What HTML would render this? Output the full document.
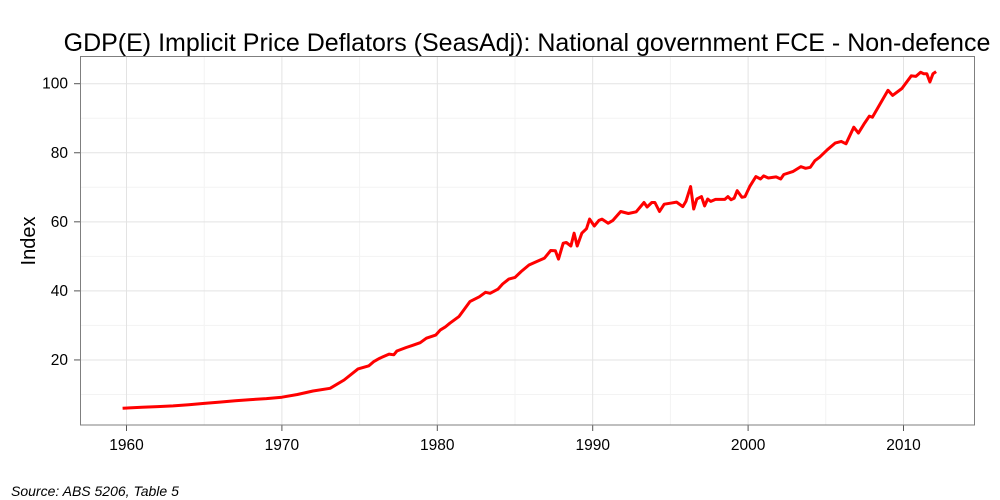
<!DOCTYPE html>
<html><head><meta charset="utf-8">
<style>
html,body{margin:0;padding:0;background:#fff;}
svg{display:block;font-family:"Liberation Sans",Arial,sans-serif;}
</style></head>
<body>
<svg id="chart" width="1000" height="500" viewBox="0 0 1000 500">
<text x="527" y="51" font-size="25" text-anchor="middle" fill="#000">GDP(E) Implicit Price Deflators (SeasAdj): National government FCE - Non-defence</text>
<g id="grid"></g>
<g id="axes"></g>
<path id="line" fill="none" stroke="#ff0000" stroke-width="3" stroke-linejoin="round"/>
<rect x="80.5" y="56.5" width="894" height="368.5" fill="none" stroke="#7f7f7f" stroke-width="1"/>
<text transform="translate(35,241) rotate(-90)" font-size="20" text-anchor="middle">Index</text>
<text x="11" y="496" font-size="14" font-style="italic">Source: ABS 5206, Table 5</text>
</svg>
<script>
const years = [1959.75,1961,1962,1963,1964,1965,1966,1967,1968,1969,1970,1971,1972,1973.1,1974.0,1974.9,1975.6,1975.9,1976.3,1976.9,1977.2,1977.4,1978.0,1978.4,1978.9,1979.3,1979.9,1980.2,1980.5,1980.8,1981.4,1982.1,1982.7,1983.1,1983.4,1983.9,1984.2,1984.6,1985.0,1985.4,1985.9,1986.4,1986.9,1987.3,1987.6,1987.8,1988.1,1988.3,1988.6,1988.8,1989.0,1989.3,1989.6,1989.8,1990.1,1990.4,1990.6,1991.0,1991.3,1991.8,1992.3,1992.8,1993.3,1993.5,1993.8,1994.0,1994.3,1994.6,1995.0,1995.4,1995.8,1996.0,1996.3,1996.5,1996.7,1997.0,1997.2,1997.4,1997.6,1997.9,1998.5,1998.7,1998.9,1999.1,1999.3,1999.6,1999.8,2000.1,2000.5,2000.8,2001.0,2001.3,2001.8,2002.1,2002.3,2002.9,2003.4,2003.7,2004.0,2004.3,2004.6,2005.1,2005.6,2006.0,2006.3,2006.5,2006.8,2007.1,2007.5,2007.8,2008.0,2008.5,2009.0,2009.3,2009.9,2010.5,2010.8,2011.1,2011.3,2011.5,2011.7,2011.9,2012.1];
const values = [6.0,6.3,6.5,6.7,7.0,7.4,7.8,8.2,8.5,8.8,9.2,10.0,11.0,11.8,14.2,17.4,18.3,19.5,20.5,21.7,21.5,22.6,23.6,24.2,25.0,26.3,27.2,28.7,29.5,30.6,32.6,36.9,38.3,39.6,39.3,40.5,42.0,43.4,43.9,45.6,47.5,48.5,49.5,51.7,51.6,49.2,53.8,54.0,53.0,56.7,53.0,56.7,58.0,60.8,58.8,60.4,60.8,59.6,60.4,63.0,62.4,62.9,65.6,64.3,65.6,65.6,63.0,65.1,65.4,65.7,64.4,65.9,70.2,63.7,66.6,67.3,64.6,66.6,65.9,66.5,66.5,67.3,66.4,66.8,69.0,67.1,67.3,70.2,73.1,72.4,73.3,72.7,73.0,72.4,73.7,74.6,76.0,75.5,75.8,77.7,78.7,80.9,82.8,83.3,82.6,84.5,87.4,85.7,88.6,90.6,90.3,94.2,98.1,96.6,98.6,102.3,102.1,103.3,102.9,102.9,100.5,102.9,103.5];
const xTicks = [1960,1970,1980,1990,2000,2010];
const xMinor = [1965,1975,1985,1995,2005];
const yTicks = [20,40,60,80,100];
const yMinor = [10,30,50,70,90];

const X = y => 126.5 + (y - 1960) * 15.54;
const Y = v => 429 - v * 3.453;
const NS = 'http://www.w3.org/2000/svg';
const grid = document.getElementById('grid');
const axes = document.getElementById('axes');
function ln(p, x1, y1, x2, y2, c, w) {
  const l = document.createElementNS(NS, 'line');
  l.setAttribute('x1', x1); l.setAttribute('y1', y1);
  l.setAttribute('x2', x2); l.setAttribute('y2', y2);
  l.setAttribute('stroke', c); l.setAttribute('stroke-width', w);
  p.appendChild(l); return l;
}
function tx(p, x, y, s, anchor) {
  const t = document.createElementNS(NS, 'text');
  t.setAttribute('x', x); t.setAttribute('y', y);
  t.setAttribute('font-size', 15.5); t.setAttribute('text-anchor', anchor);
  t.textContent = s; p.appendChild(t); return t;
}
xMinor.forEach(v => {
  const l = ln(grid, X(v), 57, X(v), 425, '#f3f3f3', 1);
  
  
});
yMinor.forEach(v => {
  const l = ln(grid, 81, Y(v), 974, Y(v), '#f3f3f3', 1);
  
  
});
xTicks.forEach(v => {
  const g = ln(grid, X(v), 57, X(v), 425, '#e3e3e3', 1);
  
  
  const t = ln(axes, X(v), 425, X(v), 431, '#555', 1);
  
  
  const l = tx(axes, X(v), 450, String(v), 'middle');
  
  
});
yTicks.forEach(v => {
  const g = ln(grid, 81, Y(v), 974, Y(v), '#e3e3e3', 1);
  
  
  const t = ln(axes, 74, Y(v), 80, Y(v), '#555', 1);
  
  
  const l = tx(axes, 68, Y(v) + 5, String(v), 'end');
  
  
});
document.getElementById('line').setAttribute('d',
  years.map((y, i) => (i ? 'L' : 'M') + X(y).toFixed(1) + ',' + Y(values[i]).toFixed(1)).join(''));
</script>
</body></html>
